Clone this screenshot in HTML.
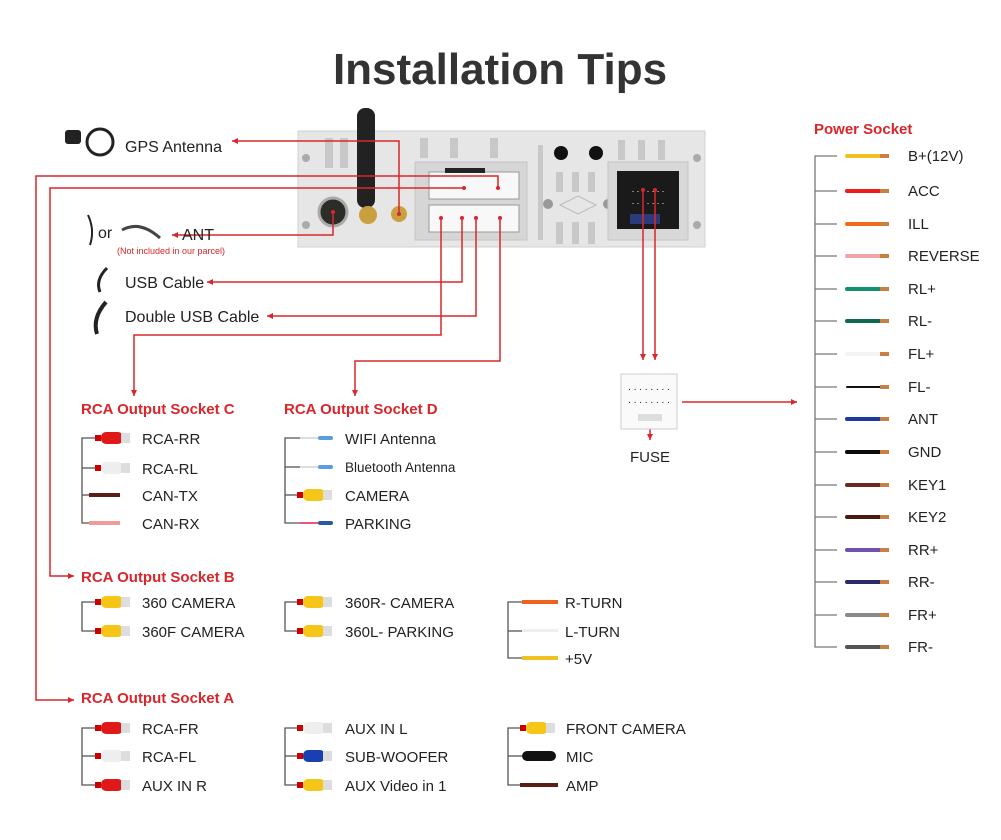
<!DOCTYPE html>
<html><head><meta charset="utf-8"><style>
html,body{margin:0;padding:0;background:#fff;}
svg{display:block;font-family:"Liberation Sans",sans-serif;}
</style></head><body>
<svg width="1001" height="840" viewBox="0 0 1001 840" xmlns="http://www.w3.org/2000/svg">
<defs>
<marker id="ar" markerWidth="8" markerHeight="8" refX="6" refY="3" orient="auto" markerUnits="userSpaceOnUse"><path d="M0,0 L6,3 L0,6 z" fill="#d9262b"/></marker>
<g id="rca">
 <rect x="0" y="-3" width="6" height="6" fill="#c00"/>
 <rect x="6" y="-6" width="22" height="12" rx="5" fill="currentColor"/>
 <rect x="26" y="-5" width="9" height="10" fill="#ddd"/>
</g>
</defs>
<rect width="1001" height="840" fill="#fff"/>
<text x="500" y="84" text-anchor="middle" font-size="44" font-weight="bold" fill="#333">Installation Tips</text>

<!-- head unit -->
<rect x="298" y="131" width="407" height="116" fill="#e6e6e6" stroke="#d0d0d0"/>
<g fill="#c8c8c8">
<rect x="325" y="138" width="8" height="30"/><rect x="340" y="138" width="8" height="30"/>
<rect x="420" y="138" width="8" height="20"/><rect x="450" y="138" width="8" height="20"/><rect x="490" y="138" width="8" height="20"/>
<rect x="556" y="172" width="7" height="20"/><rect x="572" y="172" width="7" height="20"/><rect x="588" y="172" width="7" height="20"/>
<rect x="556" y="222" width="7" height="22" /><rect x="572" y="222" width="7" height="22"/><rect x="588" y="222" width="7" height="22"/>
<rect x="618" y="140" width="7" height="20"/><rect x="638" y="140" width="7" height="20"/><rect x="658" y="140" width="7" height="20"/>
<rect x="538" y="145" width="5" height="95"/>
</g>
<rect x="415" y="162" width="112" height="78" fill="#d6d6d6" stroke="#c4c4c4"/>
<rect x="429" y="172" width="90" height="27" fill="#f8f8f8" stroke="#999"/>
<rect x="429" y="205" width="90" height="27" fill="#f8f8f8" stroke="#999"/>
<rect x="445" y="168" width="40" height="5" fill="#222"/>
<circle cx="561" cy="153" r="7" fill="#111"/><circle cx="596" cy="153" r="7" fill="#111"/>
<path d="M560 205 L578 196 L596 205 L578 214 Z" fill="none" stroke="#bbb"/>
<circle cx="548" cy="204" r="5" fill="#999"/><circle cx="608" cy="204" r="5" fill="#999"/>
<circle cx="306" cy="158" r="4" fill="#aaa"/><circle cx="306" cy="225" r="4" fill="#aaa"/><circle cx="697" cy="158" r="4" fill="#aaa"/><circle cx="697" cy="225" r="4" fill="#aaa"/>
<rect x="608" y="162" width="80" height="78" fill="#d8d8d8" stroke="#c4c4c4"/>
<rect x="617" y="171" width="62" height="58" fill="#1a1a1a"/>
<text x="648" y="192" font-size="9" text-anchor="middle" fill="#fff">. . . . . . .</text>
<text x="648" y="204" font-size="9" text-anchor="middle" fill="#fff">. . . . . . .</text>
<rect x="630" y="214" width="30" height="10" fill="#2a3a7a"/>
<circle cx="333" cy="212" r="14" fill="#2d2d28" stroke="#aaa" stroke-width="3"/>
<rect x="357" y="108" width="18" height="100" rx="8" fill="#222"/>
<circle cx="368" cy="215" r="9" fill="#c9a040"/>
<circle cx="399" cy="214" r="8" fill="#c9a040"/>

<!-- red connectors -->
<g stroke="#d9262b" stroke-width="1.5" fill="none">
<polyline points="399,214 399,141 232,141" marker-end="url(#ar)"/>
<polyline points="498,188 498,176 36,176 36,700 74,700" marker-end="url(#ar)"/>
<polyline points="464,188 50,188 50,576 74,576" marker-end="url(#ar)"/>
<polyline points="333,212 333,235 172,235" marker-end="url(#ar)"/>
<polyline points="462,218 462,282 207,282" marker-end="url(#ar)"/>
<polyline points="476,218 476,316 267,316" marker-end="url(#ar)"/>
<polyline points="441,218 441,335 134,335 134,396" marker-end="url(#ar)"/>
<polyline points="500,218 500,361 355,361 355,396" marker-end="url(#ar)"/>
<polyline points="643,190 643,360" marker-end="url(#ar)"/>
<polyline points="655,190 655,360" marker-end="url(#ar)"/>
<polyline points="650,418 650,440" marker-end="url(#ar)"/>
<polyline points="682,402 797,402" marker-end="url(#ar)"/>
</g>
<g fill="#d9262b"><circle cx="399" cy="214" r="2"/><circle cx="333" cy="212" r="2"/><circle cx="498" cy="188" r="2"/><circle cx="464" cy="188" r="2"/><circle cx="441" cy="218" r="2"/><circle cx="462" cy="218" r="2"/><circle cx="476" cy="218" r="2"/><circle cx="500" cy="218" r="2"/><circle cx="643" cy="190" r="2"/><circle cx="655" cy="190" r="2"/><circle cx="650" cy="418" r="2"/></g>

<!-- left accessories -->
<g fill="#222">
<circle cx="100" cy="142" r="13" fill="none" stroke="#222" stroke-width="3"/><rect x="65" y="130" width="16" height="14" rx="3" fill="#222"/>
<path d="M107 268 Q95 280 100 292" stroke="#222" stroke-width="3" fill="none"/>
<path d="M106 302 Q92 318 97 334" stroke="#222" stroke-width="4" fill="none"/>
<path d="M88 215 Q95 230 90 245" stroke="#222" stroke-width="2" fill="none"/>
<path d="M122 230 Q140 220 160 238" stroke="#444" stroke-width="3" fill="none"/>
</g>
<g font-size="16" fill="#222">
<text x="125" y="152">GPS Antenna</text>
<text x="98" y="238">or</text>
<text x="182" y="240">ANT</text>
<text x="125" y="288">USB Cable</text>
<text x="125" y="322">Double USB Cable</text>
</g>
<text x="117" y="254" font-size="9" fill="#d9262b">(Not included in our parcel)</text>

<!-- fuse -->
<rect x="621" y="374" width="56" height="55" fill="#fafafa" stroke="#ccc"/>
<text x="649" y="390" font-size="10" text-anchor="middle" fill="#222">. . . . . . . .</text>
<text x="649" y="403" font-size="10" text-anchor="middle" fill="#222">. . . . . . . .</text>
<rect x="638" y="414" width="24" height="7" fill="#ddd"/>
<text x="650" y="462" font-size="15" text-anchor="middle" fill="#222">FUSE</text>

<!-- headings -->
<g font-size="15" font-weight="bold" fill="#d9262b">
<text x="81" y="414">RCA Output Socket C</text>
<text x="284" y="414">RCA Output Socket D</text>
<text x="81" y="582">RCA Output Socket B</text>
<text x="81" y="703">RCA Output Socket A</text>
<text x="814" y="134">Power Socket</text>
</g>

<!-- brackets -->
<g stroke="#555" stroke-width="1.3" fill="none">
<polyline points="98,438 82,438 82,523 98,523"/><line x1="82" y1="468" x2="98" y2="468"/><line x1="82" y1="495" x2="98" y2="495"/>
<polyline points="300,438 285,438 285,523 300,523"/><line x1="285" y1="467" x2="300" y2="467"/><line x1="285" y1="495" x2="300" y2="495"/>
<polyline points="98,602 82,602 82,631 98,631"/>
<polyline points="300,602 285,602 285,631 300,631"/>
<polyline points="522,602 508,602 508,658 522,658"/><line x1="508" y1="631" x2="522" y2="631"/>
<polyline points="98,728 82,728 82,785 98,785"/><line x1="82" y1="756" x2="98" y2="756"/>
<polyline points="300,728 285,728 285,785 300,785"/><line x1="285" y1="756" x2="300" y2="756"/>
<polyline points="522,728 508,728 508,785 522,785"/><line x1="508" y1="756" x2="522" y2="756"/>
</g>
<g stroke="#777" stroke-width="1.3" fill="none">
<polyline points="837,156 815,156 815,647 837,647"/>
<line x1="815" y1="191" x2="837" y2="191"/><line x1="815" y1="224" x2="837" y2="224"/><line x1="815" y1="256" x2="837" y2="256"/><line x1="815" y1="289" x2="837" y2="289"/><line x1="815" y1="321" x2="837" y2="321"/><line x1="815" y1="354" x2="837" y2="354"/><line x1="815" y1="387" x2="837" y2="387"/><line x1="815" y1="419" x2="837" y2="419"/><line x1="815" y1="452" x2="837" y2="452"/><line x1="815" y1="485" x2="837" y2="485"/><line x1="815" y1="517" x2="837" y2="517"/><line x1="815" y1="550" x2="837" y2="550"/><line x1="815" y1="582" x2="837" y2="582"/><line x1="815" y1="615" x2="837" y2="615"/>
</g>

<!-- plugs -->
<use href="#rca" x="95" y="438" color="#e01818"/>
<use href="#rca" x="95" y="468" color="#eeeeee"/>
<rect x="89" y="493" width="31" height="4" fill="#5a1e14"/>
<rect x="89" y="521" width="31" height="4" fill="#f09a9a"/>
<rect x="300" y="437" width="18" height="2" fill="#ddd"/><rect x="318" y="436" width="15" height="4" rx="2" fill="#5b9be0"/>
<rect x="300" y="466" width="18" height="2" fill="#ddd"/><rect x="318" y="465" width="15" height="4" rx="2" fill="#5b9be0"/>
<use href="#rca" x="297" y="495" color="#f5c518"/>
<rect x="300" y="522" width="18" height="2" fill="#e57"/><rect x="318" y="521" width="15" height="4" rx="2" fill="#2a5aa0"/>
<use href="#rca" x="95" y="602" color="#f5c518"/>
<use href="#rca" x="95" y="631" color="#f5c518"/>
<use href="#rca" x="297" y="602" color="#f5c518"/>
<use href="#rca" x="297" y="631" color="#f5c518"/>
<rect x="522" y="600" width="36" height="4" fill="#f06020"/>
<rect x="522" y="629" width="36" height="3" fill="#eee"/>
<rect x="522" y="656" width="36" height="4" fill="#f0c020"/>
<use href="#rca" x="95" y="728" color="#e01818"/>
<use href="#rca" x="95" y="756" color="#eeeeee"/>
<use href="#rca" x="95" y="785" color="#e01818"/>
<use href="#rca" x="297" y="728" color="#eeeeee"/>
<use href="#rca" x="297" y="756" color="#1a3fb0"/>
<use href="#rca" x="297" y="785" color="#f5c518"/>
<use href="#rca" x="520" y="728" color="#f5c518"/>
<rect x="522" y="751" width="34" height="10" rx="5" fill="#111"/>
<rect x="520" y="783" width="38" height="4" fill="#5a1e14"/>

<!-- power wires -->
<g stroke-width="4" stroke-linecap="round">
<line x1="847" y1="156" x2="880" y2="156" stroke="#f0c020"/>
<line x1="847" y1="191" x2="880" y2="191" stroke="#ee1c1c"/>
<line x1="847" y1="224" x2="880" y2="224" stroke="#f06a1a"/>
<line x1="847" y1="256" x2="880" y2="256" stroke="#f4a0a8"/>
<line x1="847" y1="289" x2="880" y2="289" stroke="#129070"/>
<line x1="847" y1="321" x2="880" y2="321" stroke="#0d6a50"/>
<line x1="847" y1="354" x2="880" y2="354" stroke="#f4f4f4"/>
<line x1="847" y1="387" x2="880" y2="387" stroke="#111" stroke-width="2"/>
<line x1="847" y1="419" x2="880" y2="419" stroke="#1a3aa0"/>
<line x1="847" y1="452" x2="880" y2="452" stroke="#0a0a0a"/>
<line x1="847" y1="485" x2="880" y2="485" stroke="#6a2a20"/>
<line x1="847" y1="517" x2="880" y2="517" stroke="#4a1a10"/>
<line x1="847" y1="550" x2="880" y2="550" stroke="#7050b0"/>
<line x1="847" y1="582" x2="880" y2="582" stroke="#2a2a6a"/>
<line x1="847" y1="615" x2="880" y2="615" stroke="#8a8a8a"/>
<line x1="847" y1="647" x2="880" y2="647" stroke="#555"/>
</g>
<g fill="#c88040">
<rect x="880" y="154" width="9" height="4"/><rect x="880" y="189" width="9" height="4"/><rect x="880" y="222" width="9" height="4"/><rect x="880" y="254" width="9" height="4"/><rect x="880" y="287" width="9" height="4"/><rect x="880" y="319" width="9" height="4"/><rect x="880" y="352" width="9" height="4"/><rect x="880" y="385" width="9" height="4"/><rect x="880" y="417" width="9" height="4"/><rect x="880" y="450" width="9" height="4"/><rect x="880" y="483" width="9" height="4"/><rect x="880" y="515" width="9" height="4"/><rect x="880" y="548" width="9" height="4"/><rect x="880" y="580" width="9" height="4"/><rect x="880" y="613" width="9" height="4"/><rect x="880" y="645" width="9" height="4"/>
</g>

<!-- labels -->
<g font-size="15" fill="#222">
<text x="142" y="444">RCA-RR</text>
<text x="142" y="474">RCA-RL</text>
<text x="142" y="501">CAN-TX</text>
<text x="142" y="529">CAN-RX</text>
<text x="345" y="444">WIFI Antenna</text>
<text x="345" y="472" font-size="13.5">Bluetooth Antenna</text>
<text x="345" y="501">CAMERA</text>
<text x="345" y="529">PARKING</text>
<text x="142" y="608">360 CAMERA</text>
<text x="142" y="637">360F CAMERA</text>
<text x="345" y="608">360R- CAMERA</text>
<text x="345" y="637">360L- PARKING</text>
<text x="565" y="608">R-TURN</text>
<text x="565" y="637">L-TURN</text>
<text x="565" y="664">+5V</text>
<text x="142" y="734">RCA-FR</text>
<text x="142" y="762">RCA-FL</text>
<text x="142" y="791">AUX IN R</text>
<text x="345" y="734">AUX IN L</text>
<text x="345" y="762">SUB-WOOFER</text>
<text x="345" y="791">AUX Video in 1</text>
<text x="566" y="734">FRONT CAMERA</text>
<text x="566" y="762">MIC</text>
<text x="566" y="791">AMP</text>
<text x="908" y="161">B+(12V)</text>
<text x="908" y="196">ACC</text>
<text x="908" y="229">ILL</text>
<text x="908" y="261">REVERSE</text>
<text x="908" y="294">RL+</text>
<text x="908" y="326">RL-</text>
<text x="908" y="359">FL+</text>
<text x="908" y="392">FL-</text>
<text x="908" y="424">ANT</text>
<text x="908" y="457">GND</text>
<text x="908" y="490">KEY1</text>
<text x="908" y="522">KEY2</text>
<text x="908" y="555">RR+</text>
<text x="908" y="587">RR-</text>
<text x="908" y="620">FR+</text>
<text x="908" y="652">FR-</text>
</g>
</svg>
</body></html>
